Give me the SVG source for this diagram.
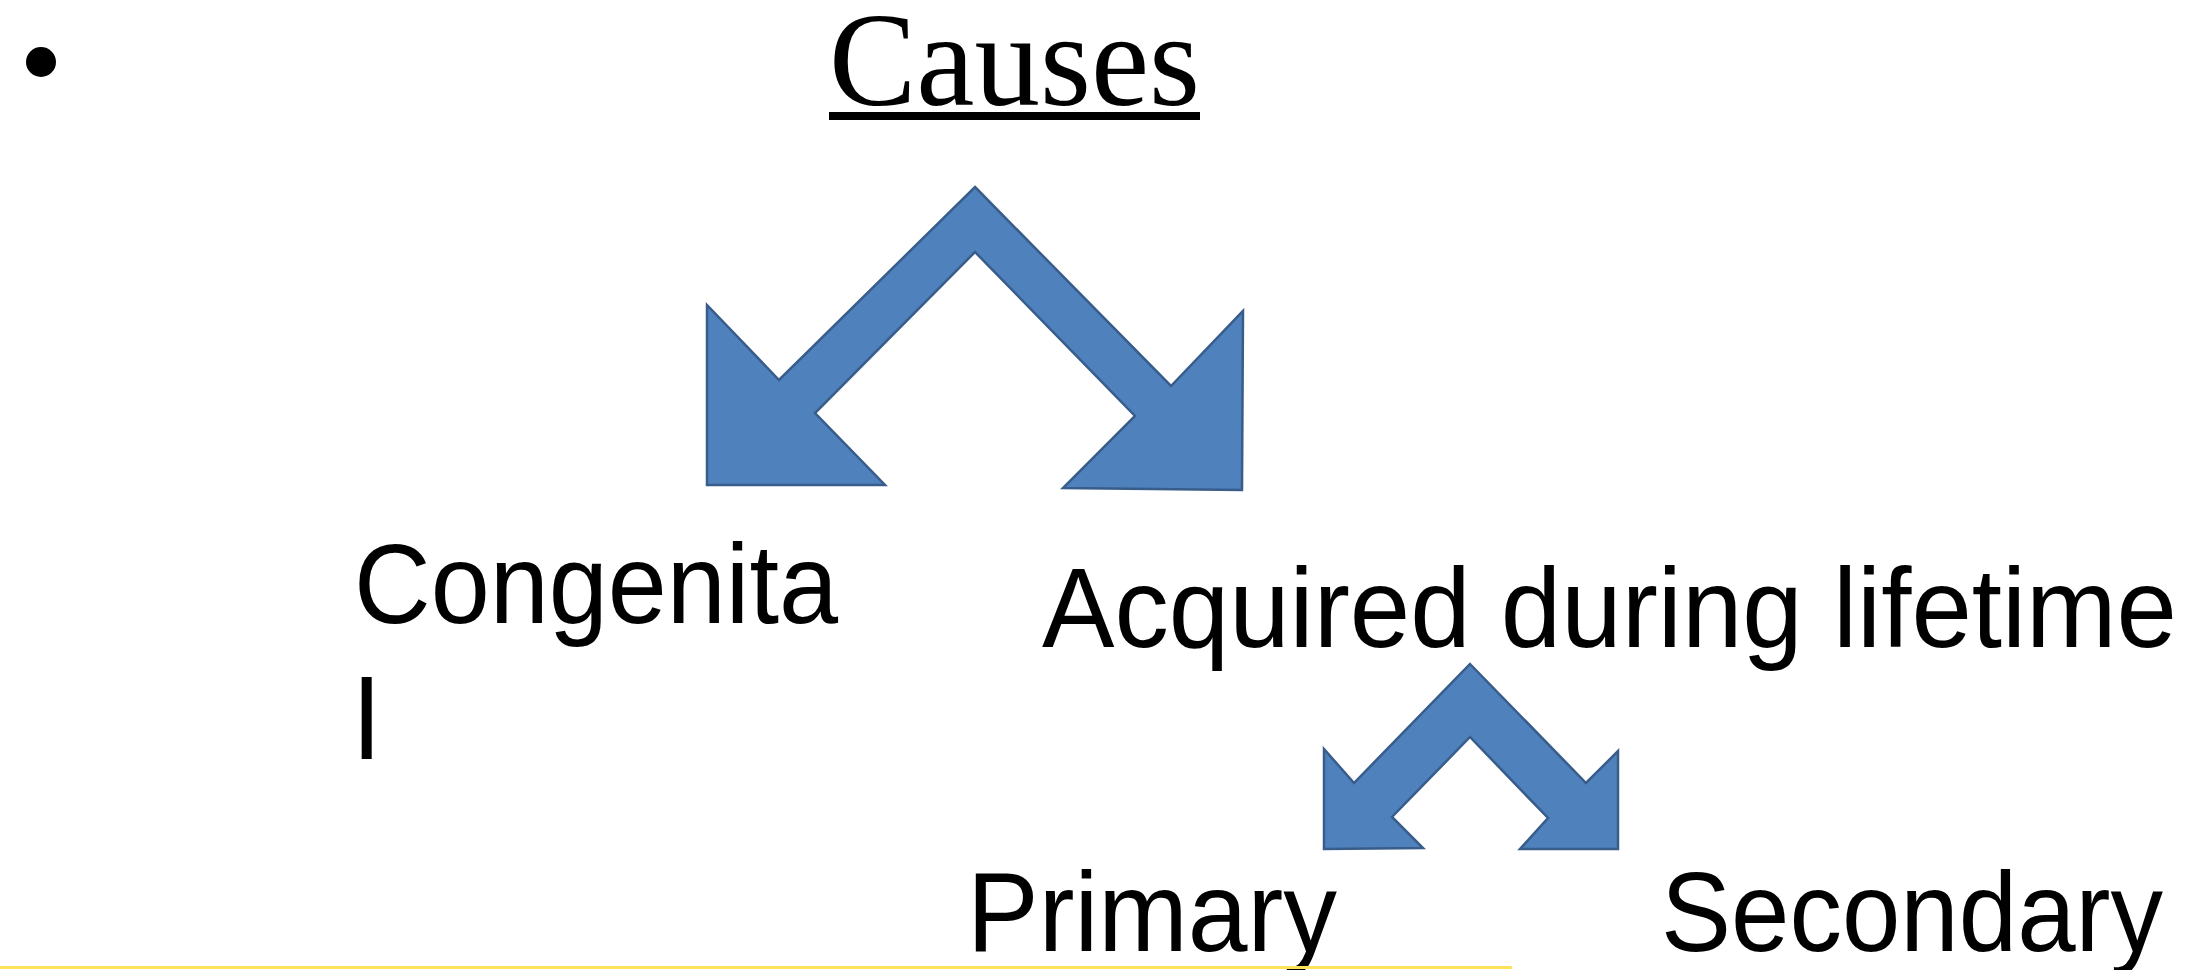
<svg xmlns="http://www.w3.org/2000/svg" width="2188" height="970" viewBox="0 0 2188 970">
<style>
.lbl{font-family:"Liberation Sans",Arial,sans-serif;font-size:114px;fill:#000}
.ttl{font-family:"Liberation Serif","Times New Roman",serif;font-size:134px;fill:#000}
.arr{fill:#4F81BD;stroke:#385D8A;stroke-width:2.5;stroke-linejoin:miter}
</style>
<rect width="2188" height="970" fill="#fff"/>
<g id="title">
<ellipse cx="41" cy="62" rx="15" ry="15" fill="#000"/>
<text class="ttl" x="829" y="105" textLength="371" lengthAdjust="spacingAndGlyphs">Causes</text>
<rect x="829" y="112" width="371" height="8" fill="#000"/>
</g>
<g id="connectors">
<path class="arr" d="M975,187 L1171,386 L1243,311 L1242,490 L1063,488 L1135,416 L975,252 L815,413 L885,485 L707,485 L707,305 L779,380 Z"/>
<path class="arr" d="M1470,664 L1586,783 L1618,751 L1618,849 L1520,849 L1548,818 L1470,737 L1392,817 L1423,848 L1324,849 L1324,749 L1354,783 Z"/>
</g>
<g id="congenital">
<text class="lbl" x="354" y="623" textLength="484" lengthAdjust="spacingAndGlyphs">Congenita</text>
<text class="lbl" x="354" y="759">l</text>
</g>
<g id="acquired">
<text class="lbl" x="1042" y="647" textLength="1135" lengthAdjust="spacingAndGlyphs">Acquired during lifetime</text>
</g>
<g id="primary">
<text class="lbl" x="967" y="951" textLength="370" lengthAdjust="spacingAndGlyphs">Primary</text>
</g>
<g id="secondary">
<text class="lbl" x="1661" y="951" textLength="502" lengthAdjust="spacingAndGlyphs">Secondary</text>
</g>
<rect x="0" y="966" width="1512" height="3" fill="#FFE15A"/>
</svg>
